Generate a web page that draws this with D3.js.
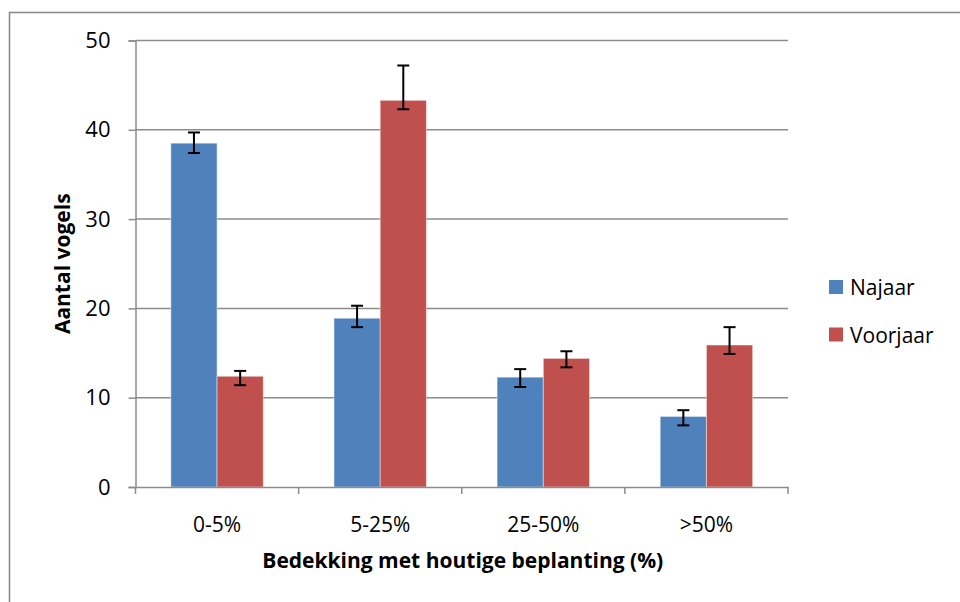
<!DOCTYPE html>
<html>
<head>
<meta charset="utf-8">
<script src="https://cdn.jsdelivr.net/npm/d3@7"></script>
<style>
  body { margin: 0; background: #fff; }
  text { font-family: "Open Sans", "DejaVu Sans", sans-serif; fill: #000; }
</style>
</head>
<body>
<script>
// Data
let categories = ["0-5%", "5-25%", "25-50%", ">50%"];
let seriesNames = ["Najaar", "Voorjaar"];
let najaar = [38.5, 18.9, 12.3, 7.9];
let voorjaar = [12.4, 43.3, 14.4, 15.9];
// error bar ends (low, high)
let najaarLow = [37.4, 17.9, 11.2, 6.9];
let najaarHigh = [39.7, 20.3, 13.2, 8.6];
let voorjaarLow = [11.4, 42.3, 13.4, 14.9];
let voorjaarHigh = [13.0, 47.2, 15.2, 17.9];
let yTicks = [0, 10, 20, 30, 40, 50];

let colors = ["#4F81BD", "#C0504D"];

let w = 960, h = 602;
let plotL = 135.5, plotR = 788, plotT = 40.5, plotB = 487;

let svg = d3.select("body").append("svg")
            .attr("width", w)
            .attr("height", h);

// outer chart frame
svg.append("rect")
    .attr("x", 9.5).attr("y", 12.5)
    .attr("width", 1000).attr("height", 700)
    .attr("fill", "none")
    .attr("stroke", "#868686")
    .attr("stroke-width", 1.5);

let x = d3.scaleBand().domain(categories).range([plotL, plotR]).paddingInner(0).paddingOuter(0);
let inner = d3.scaleBand().domain(seriesNames)
                .range([0, x.bandwidth()])
                .paddingOuter(0.765).paddingInner(0);
let y = d3.scaleLinear().domain([0, 50]).range([plotB, plotT]);

// gridlines
svg.append("g")
    .selectAll("line")
    .data(yTicks.filter(d => d > 0))
    .enter()
        .append("line")
        .attr("x1", plotL).attr("x2", plotR)
        .attr("y1", d => y(d)).attr("y2", d => y(d))
        .attr("stroke", "#8c8c8c")
        .attr("stroke-width", 1.5);

let rows = categories.map((c, i) => [
    {cat: c, s: seriesNames[0], v: najaar[i], lo: najaarLow[i], hi: najaarHigh[i], col: colors[0]},
    {cat: c, s: seriesNames[1], v: voorjaar[i], lo: voorjaarLow[i], hi: voorjaarHigh[i], col: colors[1]}
]).flat();

// bars
svg.append("g")
    .selectAll("rect")
    .data(rows)
    .enter()
        .append("rect")
        .attr("x", d => x(d.cat) + inner(d.s))
        .attr("width", inner.bandwidth())
        .attr("y", d => y(d.v))
        .attr("height", d => y(0) - y(d.v))
        .attr("fill", d => d.col)
        .attr("stroke", "rgba(255,255,255,0.45)")
        .attr("stroke-width", 1);

// error bars
let eb = svg.append("g")
    .selectAll("g")
    .data(rows)
    .enter()
        .append("g")
        .attr("stroke", "#000")
        .attr("stroke-width", 2);
let cx = d => x(d.cat) + inner(d.s) + inner.bandwidth() / 2;
eb.append("line").attr("x1", cx).attr("x2", cx).attr("y1", d => y(d.lo)).attr("y2", d => y(d.hi));
eb.append("line").attr("x1", d => cx(d) - 6).attr("x2", d => cx(d) + 6).attr("y1", d => y(d.lo)).attr("y2", d => y(d.lo));
eb.append("line").attr("x1", d => cx(d) - 6).attr("x2", d => cx(d) + 6).attr("y1", d => y(d.hi)).attr("y2", d => y(d.hi));

// y axis
let yAxis = svg.append("g")
    .attr("transform", `translate(${plotL},0)`)
    .call(d3.axisLeft(y).tickValues(yTicks).tickSize(7).tickPadding(18));
yAxis.select(".domain").attr("stroke", "#8c8c8c").attr("stroke-width", 1.5);
yAxis.selectAll(".tick line").attr("stroke", "#8c8c8c").attr("stroke-width", 1.5);
yAxis.selectAll(".tick text")
    .style("font-family", "'Open Sans', sans-serif")
    .style("font-size", "22px")
    .attr("fill", "#000");

// x axis
let xAxis = svg.append("g")
    .attr("transform", `translate(0,${plotB})`)
    .call(d3.axisBottom(x).tickSize(0).tickPadding(30));
xAxis.select(".domain").attr("stroke", "#8c8c8c").attr("stroke-width", 1.5);
xAxis.selectAll(".tick text")
    .style("font-family", "'Open Sans', sans-serif")
    .style("font-size", "21px")
    .attr("fill", "#000");
// category boundary ticks
xAxis.append("g")
    .selectAll("line")
    .data(categories.concat(["end"]))
    .enter()
        .append("line")
        .attr("x1", (d, i) => plotL + i * x.bandwidth())
        .attr("x2", (d, i) => plotL + i * x.bandwidth())
        .attr("y1", 0).attr("y2", 7)
        .attr("stroke", "#8c8c8c")
        .attr("stroke-width", 1.5);

// axis titles
svg.append("text")
    .attr("x", (plotL + plotR) / 2 + 1)
    .attr("y", 568)
    .attr("text-anchor", "middle")
    .style("font-size", "21px")
    .style("font-weight", "bold")
    .text("Bedekking met houtige beplanting (%)");

svg.append("text")
    .attr("transform", `translate(70,${(plotT + plotB) / 2}) rotate(-90)`)
    .attr("text-anchor", "middle")
    .style("font-size", "21px")
    .style("font-weight", "bold")
    .text("Aantal vogels");

// legend
let legend = svg.append("g")
    .selectAll("g")
    .data(seriesNames)
    .enter()
        .append("g")
        .attr("transform", (d, i) => `translate(829,${280 + i * 47.5})`);
legend.append("rect")
    .attr("width", 14).attr("height", 14)
    .attr("fill", (d, i) => colors[i]);
legend.append("text")
    .attr("x", 21).attr("y", 15)
    .style("font-size", "21px")
    .text(d => d);
</script>
</body>
</html>
